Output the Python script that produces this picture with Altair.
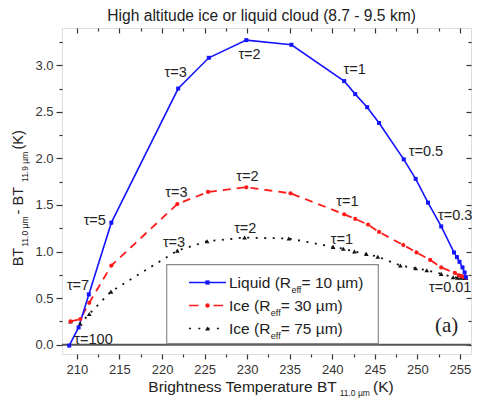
import altair as alt
import pandas as pd

# ---------------- data ----------------
liq_x = [209.1, 210.2, 211.4, 214.05, 221.9, 225.5, 229.9, 235.2, 241.4, 242.7, 244.1,
         245.5, 248.4, 249.8, 251.25, 252.8, 254.3, 254.65, 254.95, 255.3, 255.55, 255.7]
liq_y = [-0.01, 0.185, 0.54, 1.31, 2.75, 3.08, 3.27, 3.22, 2.83, 2.69, 2.55,
         2.38, 1.99, 1.78, 1.525, 1.27, 0.99, 0.94, 0.89, 0.83, 0.775, 0.725]

ice30_x = [209.25, 210.4, 211.45, 214.05, 221.8, 225.4, 229.9, 235.1, 241.4, 242.7, 244.2,
           245.5, 248.35, 249.9, 251.5, 252.8, 254.4, 254.9, 255.2, 255.5, 255.7]
ice30_y = [0.25, 0.275, 0.45, 0.85, 1.51, 1.64, 1.69, 1.625, 1.40, 1.35, 1.29,
           1.21, 1.07, 0.99, 0.91, 0.83, 0.77, 0.745, 0.735, 0.725, 0.72]

ice75_x = [209.25, 210.4, 211.45, 214.0, 221.8, 225.3, 229.7, 234.9, 240.1, 241.3, 242.6,
           244.0, 245.35, 248.0, 249.8, 251.1, 252.8, 254.2, 254.7, 255.1, 255.5, 255.7]
ice75_y = [0.25, 0.225, 0.33, 0.57, 1.01, 1.11, 1.15, 1.14, 1.05, 1.03, 1.00,
           0.975, 0.945, 0.85, 0.82, 0.80, 0.76, 0.725, 0.72, 0.72, 0.715, 0.715]

tau_text = ["τ=100", "τ=7", "τ=5", "τ=3", "τ=2", "τ=1", "τ=0.5", "τ=0.3",
            "τ=3", "τ=2", "τ=1", "τ=3", "τ=2", "τ=1", "τ=0.01"]
tau_x = [211.95, 210.13, 212.1, 221.6, 230.28, 242.64, 251.0, 254.45,
         221.7, 230.02, 241.77, 221.41, 229.78, 241.13, 253.85]
tau_y = [0.05, 0.63, 1.33, 2.92, 3.11, 2.95, 2.07, 1.385,
         1.63, 1.80, 1.535, 1.095, 1.24, 1.124, 0.605]

x_major = [210, 215, 220, 225, 230, 235, 240, 245, 250, 255]
x_minor = [212.5, 217.5, 222.5, 227.5, 232.5, 237.5, 242.5, 247.5, 252.5]
y_major = [0.0, 0.5, 1.0, 1.5, 2.0, 2.5, 3.0]
y_minor = [0.25, 0.75, 1.25, 1.75, 2.25, 2.75, 3.25]

NB = "\u00a0"  # non-breaking space (SVG drops leading plain spaces)
title_text = "High altitude ice or liquid cloud (8.7 - 9.5 km)"
legend_main = ["Liquid (R", "Ice (R", "Ice (R"]
legend_tail = [NB + "= 10 µm)", NB + "= 30 µm)", NB + "= 75 µm)"]
legend_sub = "eff"
panel_tag = "(a)"

# ---------------- styling helpers ----------------
FONT = "Liberation Sans"
W = {' ': 278, NB: 278, '(': 333, ')': 333, '-': 333, '.': 278, '=': 584, 'B': 667, 'H': 722,
     'I': 278, 'K': 667, 'L': 556, 'R': 722, 'T': 611, 'a': 556, 'b': 556, 'c': 500,
     'd': 556, 'e': 556, 'f': 278, 'g': 556, 'h': 556, 'i': 222, 'k': 500, 'l': 222,
     'm': 833, 'n': 556, 'o': 556, 'p': 556, 'q': 556, 'r': 333, 's': 500, 't': 278,
     'u': 556, 'µ': 576}


def tw(s, size):
    return sum(W.get(c, 556) for c in s) * size / 1000.0


one = pd.DataFrame({"k": [0]})


def txt(text, px, py, size, angle=0, color="#222", font=FONT):
    return alt.Chart(pd.DataFrame({"t": [text]})).mark_text(
        align="left", baseline="alphabetic", font=font, fontSize=size,
        angle=angle, color=color
    ).encode(text="t:N", x=alt.value(px), y=alt.value(py))


def run(parts, x0, y0, vertical=False):
    """parts: (text, font size, baseline shift, extra gap after)"""
    layers = []
    pos = x0 if not vertical else y0
    for text, size, shift, gap in parts:
        if not vertical:
            layers.append(txt(text, pos, y0 + shift, size))
            pos += tw(text, size) + gap
        else:
            layers.append(txt(text, x0 + shift, pos, size, angle=270))
            pos -= tw(text, size) + gap
    return layers


xscale = alt.Scale(domain=[208.25, 256.3], nice=False, zero=False)
yscale = alt.Scale(domain=[-0.1, 3.4], nice=False, zero=False)

common_ax = dict(domain=False, grid=False, title=None, labelFlush=False, labelOverlap=False,
                 tickColor="#333", tickWidth=1.2)
ax_x_major = alt.Axis(orient="bottom", values=x_major, format="d", tickSize=5, labelPadding=4,
                      labelFont=FONT, labelFontSize=13, labelColor="#333", **common_ax)
ax_y_major = alt.Axis(orient="left", values=y_major, format=".1f", tickSize=6, labelPadding=3,
                      labelFont=FONT, labelFontSize=13, labelColor="#333", **common_ax)
ax_x_minor = alt.Axis(orient="bottom", values=x_minor, labels=False, tickSize=3, **common_ax)
ax_y_minor = alt.Axis(orient="left", values=y_minor, labels=False, tickSize=3, **common_ax)
ax_x_top = alt.Axis(orient="top", values=x_major, labels=False, tickSize=5, offset=-5, **common_ax)
ax_y_right = alt.Axis(orient="right", values=y_major, labels=False, tickSize=5, offset=-5, **common_ax)
ax_x_top_m = alt.Axis(orient="top", values=x_minor, labels=False, tickSize=3, offset=-3, **common_ax)
ax_y_right_m = alt.Axis(orient="right", values=y_minor, labels=False, tickSize=3, offset=-3, **common_ax)

liq = pd.DataFrame({"x": liq_x, "y": liq_y})
ice30 = pd.DataFrame({"x": ice30_x, "y": ice30_y})
ice75 = pd.DataFrame({"x": ice75_x, "y": ice75_y})
taus = pd.DataFrame({"x": tau_x, "y": tau_y, "t": tau_text})

BLUE, RED, BLACK = "#1414ff", "#ff1a1a", "#111111"


def enc(ax_x=None, ax_y=None):
    return dict(x=alt.X("x:Q", scale=xscale, axis=ax_x),
                y=alt.Y("y:Q", scale=yscale, axis=ax_y))


zero = alt.Chart(pd.DataFrame({"y": [0.0]})).mark_rule(color="#555", strokeWidth=2).encode(
    y=alt.Y("y:Q", scale=yscale, axis=None))

l75 = alt.Chart(ice75).mark_line(color=BLACK, strokeWidth=1.8, strokeDash=[2, 6.5]).encode(
    **enc(ax_x_top, ax_y_right))
l30 = alt.Chart(ice30).mark_line(color=RED, strokeWidth=1.8, strokeDash=[8, 6]).encode(
    **enc(ax_x_minor, ax_y_minor))
lliq = alt.Chart(liq).mark_line(color=BLUE, strokeWidth=1.6).encode(
    **enc(ax_x_major, ax_y_major))
p75 = alt.Chart(ice75).mark_point(shape="triangle-up", filled=True, size=22, color=BLACK, opacity=1).encode(
    **enc(ax_x_top_m, ax_y_right_m))
p30 = alt.Chart(ice30).mark_point(shape="circle", filled=True, size=18, color=RED, opacity=1).encode(**enc())
pliq = alt.Chart(liq).mark_point(shape="square", filled=True, size=16, color=BLUE, opacity=1).encode(**enc())

tau_layer = alt.Chart(taus).mark_text(font=FONT, fontSize=14.5, color="#222", align="center",
                                      baseline="middle").encode(text="t:N", **enc())

# ---------------- legend (manual, to allow subscripts) ----------------
leg_box = alt.Chart(one).mark_rect(fill="white", stroke="#8a8a8a", strokeWidth=1.2).encode(
    x=alt.value(104.7), x2=alt.value(316.3), y=alt.value(236.7), y2=alt.value(315.7))
rows_y = [254.5, 277.5, 300.5]
leg = [leg_box]
styles = [(BLUE, None, "square", 18), (RED, [9.5, 15], "circle", 20), (BLACK, [2, 7.3], "triangle-up", 24)]
for i, (col, dash, shp, sz) in enumerate(styles):
    rk = dict(color=col, strokeWidth=1.6)
    if dash:
        rk["strokeDash"] = dash
    leg.append(alt.Chart(one).mark_rule(**rk).encode(
        x=alt.value(127), x2=alt.value(164), y=alt.value(rows_y[i])))
    leg.append(alt.Chart(one).mark_point(shape=shp, filled=True, size=sz, color=col, opacity=1).encode(
        x=alt.value(145.5), y=alt.value(rows_y[i])))
    leg += run([(legend_main[i], 15.5, 0, 0.5), (legend_sub, 9, 4.5, 0), (legend_tail[i], 15.5, 0, 0)],
               167, rows_y[i] + 5.5)

# ---------------- titles ----------------
titles = []
titles.append(txt(title_text, 45.3, -7.5, 15.6))
titles += run([("Brightness Temperature BT", 15.5, 0, 1), ("11.0 µm", 8.5, 3.3, 2.5),
               (NB + "(K)", 15.5, 0, 0)],
              86.3, 364.3)
titles += run([("BT", 14.5, 0, 1), ("11.0 µm", 8.5, 5, 1.5), (NB + "-" + NB + "BT", 14.5, 0, 1),
               ("11.9 µm", 8.5, 5, 1.5), (NB + "(K)", 14.5, 0, 0)],
              -38.8, 238.3, vertical=True)
titles.append(txt(panel_tag, 373, 304, 21, font="Liberation Serif"))

chart = alt.layer(
    zero, l75, l30, lliq, p75, p30, pliq, tau_layer, *leg, *titles
).resolve_axis(x="independent", y="independent").properties(
    width=409, height=326,
    autosize=alt.AutoSizeParams(type="none"),
    padding={"left": 54, "top": 20, "right": 2, "bottom": 44},
).configure_view(stroke="#333", strokeWidth=1.5).configure(background="white")

chart.save("out.html", embed_options={"renderer": "svg", "actions": False})
